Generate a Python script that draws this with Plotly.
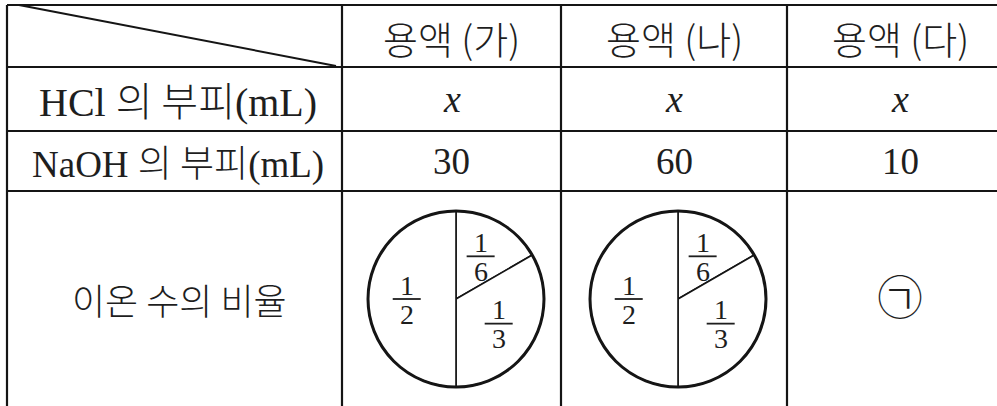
import math
import plotly.graph_objects as go

# ---- data ----
col_headers = ["용액 (가)", "용액 (나)", "용액 (다)"]
row_prefix = ["HCl", "NaOH"]
row_suffix = "의 부피"
row_unit = "(mL)"
ratio_label = "이온 수의 비율"
hcl_volume = ["x", "x", "x"]
naoh_volume = [30, 60, 10]
ion_ratio_labels = ["1/6", "1/3", "1/2"]
ion_ratio_values = [1 / 6, 1 / 3, 1 / 2]
unknown_mark = "㉠"

# ---- layout constants ----
W, H = 997, 406
col_edges = [7, 342, 561, 787, 1013]
row_edges = [5, 67, 131, 191, 430]
pie_r = 88
pie_cy = 299
pie_cx = [456, 678]

LINE = "#151515"
TXT = "#1e1e1e"
SERIF = "Liberation Serif, Noto Sans CJK KR"
KR = "Noto Sans CJK KR, Liberation Serif"

fig = go.Figure()
shapes = []
ann = []

def hline(y, x0, x1, w=2.2):
    shapes.append(dict(type="line", xref="x", yref="y", x0=x0, x1=x1, y0=y, y1=y,
                       line=dict(color=LINE, width=w)))

def vline(x, y0, y1, w=2.2):
    shapes.append(dict(type="line", xref="x", yref="y", x0=x, x1=x, y0=y0, y1=y1,
                       line=dict(color=LINE, width=w)))

for y in row_edges:
    hline(y, col_edges[0], col_edges[-1])
for x in col_edges:
    vline(x, row_edges[0], row_edges[-1])
# diagonal in corner cell
shapes.append(dict(type="line", xref="x", yref="y", x0=col_edges[0] + 12, y0=row_edges[0],
                   x1=col_edges[1] - 6, y1=row_edges[1] - 1, line=dict(color=LINE, width=2)))

def cx(i):
    return (col_edges[i] + col_edges[i + 1]) / 2

def cy(j):
    return (row_edges[j] + row_edges[j + 1]) / 2

def text(x, y, s, size, family, italic=False, weight=None):
    if italic:
        s = "<i>" + s + "</i>"
    f = dict(size=size, family=family, color=TXT)
    if weight:
        f["weight"] = weight
    ann.append(dict(x=x, y=y, xref="x", yref="y", text=s, showarrow=False,
                    font=f, xanchor="center", yanchor="middle"))

def kr_span(s):
    return ("<span style='font-family:\"Noto Sans CJK KR\";font-weight:300'>"
            + s + "</span>")

# header row
for i, h in enumerate(col_headers):
    text(cx(i + 1), cy(0) + 1, h, 38, KR, weight=300)

# row labels
text(cx(0) + 3, cy(1), row_prefix[0] + " " + kr_span(row_suffix) + row_unit, 40, SERIF)
text(cx(0) + 3, cy(2), row_prefix[1] + " " + kr_span(row_suffix) + row_unit, 37, SERIF)
text(cx(0) + 5, pie_cy, ratio_label, 36, KR, weight=300)

for i, v in enumerate(hcl_volume):
    text(cx(i + 1), cy(1), v, 38, "Liberation Serif", italic=True)
for i, v in enumerate(naoh_volume):
    text(cx(i + 1), cy(2), str(v), 37, "Liberation Serif")

text(cx(3), 294, unknown_mark, 46, KR, weight=300)

# pies
for k, pcx in enumerate(pie_cx):
    fig.add_trace(go.Pie(
        values=ion_ratio_values, labels=ion_ratio_labels, sort=False,
        direction="clockwise", rotation=0, textinfo="none", showlegend=False,
        marker=dict(colors=["white"] * 3, line=dict(color=LINE, width=1.6)),
        domain=dict(x=[(pcx - pie_r) / W, (pcx + pie_r) / W],
                    y=[1 - (pie_cy + pie_r) / H, 1 - (pie_cy - pie_r) / H]),
        hoverinfo="label",
    ))
    shapes.append(dict(type="circle", xref="x", yref="y", x0=pcx - pie_r, x1=pcx + pie_r,
                       y0=pie_cy - pie_r, y1=pie_cy + pie_r, line=dict(color=LINE, width=3)))
    # fraction labels at mid-angle of each slice
    cum = 0.0
    total = sum(ion_ratio_values)
    for lab, v in zip(ion_ratio_labels, ion_ratio_values):
        mid = (cum + v / 2) / total * 2 * math.pi
        cum += v
        lr = pie_r * 0.56
        lx = pcx + lr * math.sin(mid)
        ly = pie_cy - lr * math.cos(mid)
        num, den = lab.split("/")
        text(lx, ly - 14, num, 28, "Liberation Serif")
        text(lx, ly + 15, den, 28, "Liberation Serif")
        shapes.append(dict(type="line", xref="x", yref="y", x0=lx - 14, x1=lx + 14,
                           y0=ly, y1=ly, line=dict(color=TXT, width=1.8)))

fig.update_layout(
    width=W, height=H, margin=dict(l=0, r=0, t=0, b=0),
    paper_bgcolor="white", plot_bgcolor="white",
    xaxis=dict(range=[0, W], visible=False, fixedrange=True),
    yaxis=dict(range=[H, 0], visible=False, fixedrange=True),
    shapes=shapes, annotations=ann,
)

fig.write_html("out.html", post_script="document.body.style.margin='0';",
               config={"displayModeBar": False})
